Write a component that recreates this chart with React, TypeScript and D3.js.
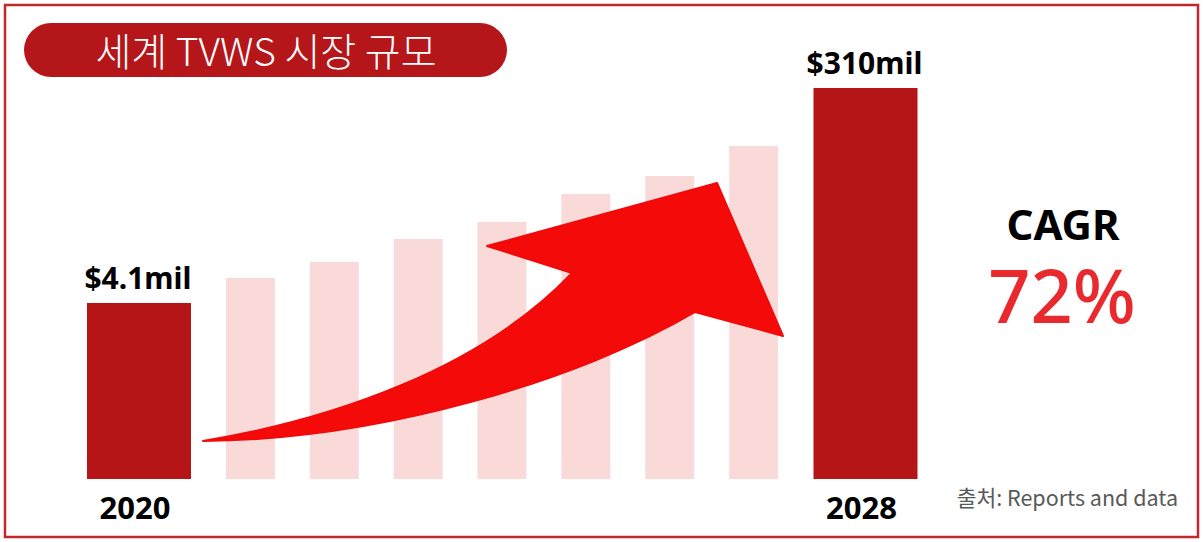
import React from "react";
import * as d3 from "d3";

const W = 1203;
const H = 542;

// Highlighted endpoints (actual market values)
const endYears = ["2020", "2028"];
const endValues = ["$4.1mil", "$310mil"];
const endHeights = [176, 391]; // visual height index (not to scale)

// Decorative growth bars between endpoints
const midYears = ["2021", "2022", "2023", "2024", "2025", "2026", "2027"];
const midHeights = [201, 217, 240, 257, 285, 303, 333];

const titleText = "세계 TVWS 시장 규모";
const cagrLabel = "CAGR";
const cagrValue = "72%";
const sourceText = "출처: Reports and data";

export default function App() {
  const y = d3.scaleLinear().domain([0, 400]).range([479, 79]);
  const xEnd = d3.scalePoint<string>().domain(endYears).range([139, 865.5]);
  const endW = 104;
  const xMid = d3
    .scaleBand<string>()
    .domain(midYears)
    .range([226, 778])
    .paddingInner(0.417)
    .paddingOuter(0);

  const arrowPath = [
    "M203,441",
    "C330,420 480,370 572,273",
    "L487,246",
    "L717,183",
    "L783,336",
    "L695,312",
    "C580,380 380,440 203,441",
    "Z",
  ].join(" ");

  const boldFont = "'Noto Sans', 'Open Sans', sans-serif";
  const krFont = "'Noto Sans CJK KR', 'Noto Sans', sans-serif";

  return (
    <div style={{ position: "fixed", left: 0, top: 0 }}>
      <svg width={W} height={H} style={{ display: "block", background: "#fff" }}>
        <rect x={5} y={5} width={1193} height={532} fill="#fff" stroke="#c1272d" strokeWidth={2.5} />

        {/* Title pill */}
        <rect x={24} y={23} width={483} height={54} rx={27} ry={27} fill="#b5161a" />
        <text x={266} y={66} textAnchor="middle" fill="#fff" fontFamily={krFont} fontSize={39} fontWeight={300}>
          {titleText}
        </text>

        {/* Decorative bars */}
        {midYears.map((yr, i) => (
          <rect
            key={yr}
            x={xMid(yr)!}
            y={y(midHeights[i])}
            width={xMid.bandwidth()}
            height={y(0) - y(midHeights[i])}
            fill="#fad9d9"
          />
        ))}

        {/* Endpoint bars */}
        {endYears.map((yr, i) => (
          <g key={yr}>
            <rect
              x={xEnd(yr)! - endW / 2}
              y={y(endHeights[i])}
              width={endW}
              height={y(0) - y(endHeights[i])}
              fill="#b51516"
            />
            <text
              x={xEnd(yr)! - 1}
              y={y(endHeights[i]) - 14}
              textAnchor="middle"
              fontFamily={boldFont}
              fontWeight={700}
              fontSize={30}
              fill="#000"
            >
              {endValues[i]}
            </text>
            <text
              x={xEnd(yr)! - 4}
              y={519}
              textAnchor="middle"
              fontFamily={boldFont}
              fontWeight={700}
              fontSize={31}
              fill="#000"
            >
              {yr}
            </text>
          </g>
        ))}

        {/* Arrow */}
        <path d={arrowPath} fill="#f50a0a" stroke="#f00a0a" strokeWidth={2} strokeLinejoin="round" />

        {/* CAGR */}
        <text x={1063} y={240} textAnchor="middle" fontFamily={boldFont} fontWeight={700} fontSize={42} fill="#000">
          {cagrLabel}
        </text>
        <text x={1062} y={323} textAnchor="middle" fontFamily={boldFont} fontWeight={500} fontSize={74} fill="#e8292e">
          {cagrValue}
        </text>

        {/* Source */}
        <text x={1178} y={506} textAnchor="end" fontFamily={krFont} fontSize={21.5} fill="#595959">
          {sourceText}
        </text>
      </svg>
    </div>
  );
}
